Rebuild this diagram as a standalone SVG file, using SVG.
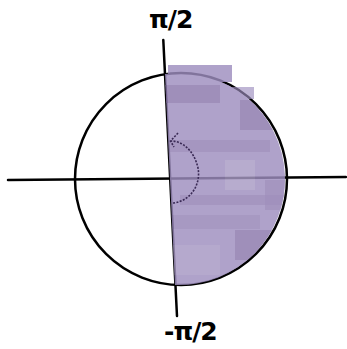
<svg xmlns="http://www.w3.org/2000/svg" width="347" height="349" viewBox="0 0 347 349">
<style>
.ax{stroke:#000;stroke-width:2.5;fill:none;stroke-linecap:round}
.lbl{font-family:"DejaVu Sans",sans-serif;font-weight:bold;font-size:25px;fill:#000}
.band{fill:#8a77ab}
.lite{fill:#b1a5ca}
.rot{stroke:#3a2a55;stroke-width:1.6;fill:none;stroke-dasharray:2 1.4}
</style>
<defs>
<clipPath id="half">
<path d="M165,74 A106,106 0 1 1 175,285 Z"/>
</clipPath>
</defs>
<rect width="347" height="349" fill="#fff"/>
<g id="axes">
<line class="ax" x1="8" y1="180" x2="346" y2="177"/>
<line class="ax" x1="163.3" y1="40" x2="177" y2="316"/>
</g>
<g id="circle">
<circle class="ax" cx="181" cy="179" r="106"/>
</g>
<g id="shade" opacity="0.82">
<g clip-path="url(#half)">
<rect x="160" y="60" width="140" height="240" fill="#9e8ebf"/>
<rect class="band" x="160" y="85" width="60" height="18"/>
<rect class="band" x="240" y="100" width="50" height="30"/>
<rect class="band" x="170" y="140" width="100" height="12" opacity="0.6"/>
<rect class="band" x="180" y="195" width="110" height="10" opacity="0.6"/>
<rect class="band" x="170" y="215" width="90" height="14" opacity="0.5"/>
<rect class="band" x="235" y="230" width="40" height="30"/>
<rect class="lite" x="225" y="160" width="30" height="30" opacity="0.5"/>
<rect class="lite" x="170" y="245" width="50" height="30" opacity="0.4"/>
<rect class="band" x="265" y="180" width="25" height="30" opacity="0.6"/>
</g>
<rect x="168" y="65" width="64" height="17" fill="#9e8ebf"/>
<rect x="230" y="87" width="24" height="12" fill="#9e8ebf" opacity="0.8"/>
</g>
<g id="rotation">
<path class="rot" d="M173,203 C192,201 201,183 198,168 C194,150 182,141 171,141"/>
<polyline class="rot" stroke-dasharray="none" points="178,133 170.5,141 174,147"/>
</g>
<g id="labels">
<text class="lbl" x="149" y="28" letter-spacing="-1">π/2</text>
<text class="lbl" x="164" y="340" letter-spacing="-1">-π/2</text>
</g>
</svg>
